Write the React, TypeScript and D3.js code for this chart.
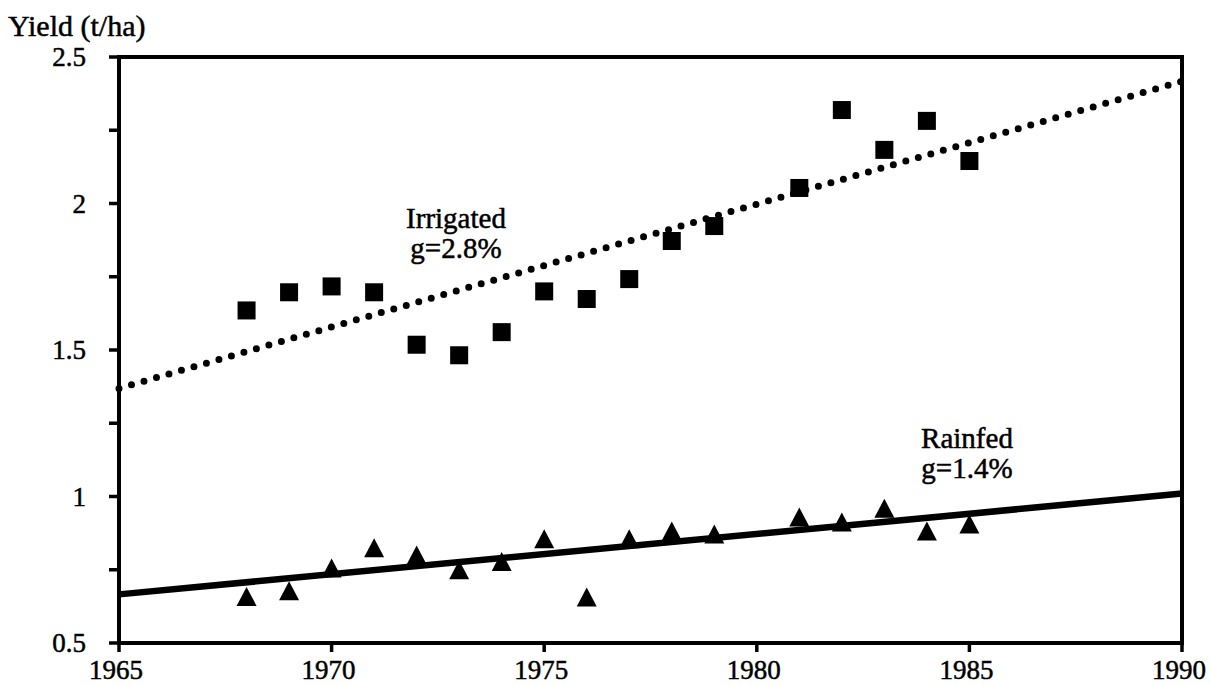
import React from "react";
import * as d3 from "d3";

const years = [1968, 1969, 1970, 1971, 1972, 1973, 1974, 1975, 1976, 1977, 1978, 1979, 1981, 1982, 1983, 1984, 1985];
const irrigated = [1.635, 1.697, 1.717, 1.697, 1.518, 1.482, 1.561, 1.70, 1.674, 1.742, 1.872, 1.923, 2.053, 2.319, 2.183, 2.282, 2.145];
const rainfed = [0.659, 0.678, 0.756, 0.825, 0.80, 0.75, 0.778, 0.856, 0.657, 0.856, 0.882, 0.872, 0.93, 0.913, 0.96, 0.882, 0.906];

const trendYears = [1965, 1990];
const irrigatedTrend = [1.369, 2.417];
const rainfedTrend = [0.666, 1.010];

const xTicks = [1965, 1970, 1975, 1980, 1985, 1990];
const yTicks = [0.5, 0.75, 1, 1.25, 1.5, 1.75, 2, 2.25, 2.5];
const yLabels = [0.5, 1, 1.5, 2, 2.5];

const FONT = "Liberation Serif, DejaVu Serif, serif";

export default function App() {
  const W = 1210, H = 686;
  const x = d3.scaleLinear().domain([1965, 1990]).range([119, 1182]);
  const y = d3.scaleLinear().domain([0.5, 2.5]).range([643, 57]);
  const line = d3.line<[number, number]>().x(d => x(d[0])).y(d => y(d[1]));
  const irrTrend = trendYears.map((t, i) => [t, irrigatedTrend[i]] as [number, number]);
  const rfTrend = trendYears.map((t, i) => [t, rainfedTrend[i]] as [number, number]);
  const sq = 18;
  const tw = 20, th = 19;
  const triPath = `M0,${-th / 2}L${tw / 2},${th / 2}L${-tw / 2},${th / 2}Z`;
  const textStyle = { fontFamily: FONT } as React.CSSProperties;
  const tp = { fill: "#000", stroke: "#000", strokeWidth: 0.5, style: textStyle };

  return (
    <svg width={W} height={H} style={{ position: "absolute", left: 0, top: 0, background: "#fff", fontFamily: FONT }}>
      <rect x={0} y={0} width={W} height={H} fill="#fff" />
      {/* frame */}
      <rect x={x(1965)} y={y(2.5)} width={x(1990) - x(1965)} height={y(0.5) - y(2.5)} fill="none" stroke="#000" strokeWidth={4} />
      {/* x ticks */}
      {xTicks.map(t => (
        <g key={"xt" + t}>
          <line x1={x(t)} x2={x(t)} y1={y(0.5)} y2={y(0.5) + 9} stroke="#000" strokeWidth={3.5} />
          <text x={x(t) - 3} y={679} textAnchor="middle" fontSize={27} {...tp}>{t}</text>
        </g>
      ))}
      {/* y ticks */}
      {yTicks.map(t => (
        <line key={"yt" + t} x1={x(1965) - 10} x2={x(1965)} y1={y(t)} y2={y(t)} stroke="#000" strokeWidth={3.5} />
      ))}
      {yLabels.map(t => (
        <text key={"yl" + t} x={86} y={y(t) + 9} textAnchor="end" fontSize={27} {...tp}>{String(t)}</text>
      ))}
      <text x={8} y={36} fontSize={30} {...tp}>Yield (t/ha)</text>

      {/* trend lines */}
      <path d={line(irrTrend) || ""} fill="none" stroke="#000" strokeWidth={7} strokeLinecap="round" strokeDasharray="0 13" />
      <path d={line(rfTrend) || ""} fill="none" stroke="#000" strokeWidth={6.5} />

      {/* irrigated squares */}
      {years.map((yr, i) => (
        <rect key={"s" + yr} x={x(yr) - sq / 2} y={y(irrigated[i]) - sq / 2} width={sq} height={sq} fill="#000" />
      ))}
      {/* rainfed triangles */}
      {years.map((yr, i) => (
        <path key={"t" + yr} d={triPath} transform={`translate(${x(yr)},${y(rainfed[i])})`} fill="#000" />
      ))}

      {/* annotations */}
      <text x={456} y={228} textAnchor="middle" fontSize={29} {...tp}>Irrigated</text>
      <text x={456} y={258} textAnchor="middle" fontSize={29} {...tp}>g=2.8%</text>
      <text x={967} y={448} textAnchor="middle" fontSize={29} {...tp}>Rainfed</text>
      <text x={967} y={478} textAnchor="middle" fontSize={29} {...tp}>g=1.4%</text>
    </svg>
  );
}
